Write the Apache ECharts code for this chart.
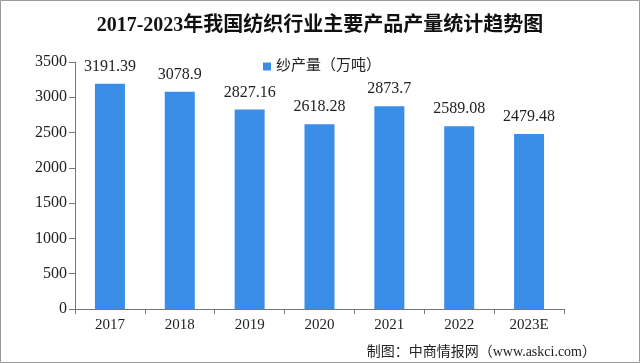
<!DOCTYPE html>
<html><head><meta charset="utf-8">
<script src="https://cdn.jsdelivr.net/npm/echarts@6/dist/echarts.min.js"></script>
<style>html,body{margin:0;padding:0;background:#fff}#c{width:640px;height:363px}</style>
</head><body><div id="c"></div>
<script>
const categories = ['2017','2018','2019','2020','2021','2022','2023E'];
const values = [3191.39, 3078.9, 2827.16, 2618.28, 2873.7, 2589.08, 2479.48];
const yTicks = [0,500,1000,1500,2000,2500,3000,3500];
const seriesName = '纱产量（万吨）';
const FONT = '"Liberation Serif", "Noto Sans CJK SC", serif';
const chart = echarts.init(document.getElementById('c'));
chart.setOption({
  animation: false,
  backgroundColor: '#fff',
  title: {
    text: '2017-2023年我国纺织行业主要产品产量统计趋势图',
    left: 'center', top: 11,
    textStyle: {fontFamily: FONT, fontSize: 20, fontWeight: 'bold', color: '#111'}
  },
  legend: {
    data: [seriesName], left: 258, top: 54, icon: 'rect', itemWidth: 8, itemHeight: 8, itemGap: 3,
    textStyle: {fontFamily: FONT, fontSize: 15, color: '#222'}
  },
  grid: {left: 75, right: 76, top: 62, bottom: 54},
  xAxis: {
    type: 'category', data: categories,
    axisLine: {lineStyle: {color: '#777'}},
    axisTick: {show: true, alignWithLabel: false, length: 5, lineStyle: {color: '#777'}},
    axisLabel: {fontFamily: FONT, fontSize: 15, color: '#222', margin: 9}
  },
  yAxis: {
    type: 'value', min: 0, max: 3500, interval: 500,
    axisLine: {show: true, lineStyle: {color: '#777'}},
    axisTick: {show: true, inside: false, length: 6, lineStyle: {color: '#777'}},
    splitLine: {show: false},
    axisLabel: {fontFamily: FONT, fontSize: 16, color: '#222', margin: 8,
      formatter: v => yTicks.includes(v) ? String(v) : ''}
  },
  series: [{
    name: seriesName, type: 'bar', data: values, barWidth: 30,
    itemStyle: {color: '#3a8ee8'},
    label: {show: true, position: 'top', distance: 9, fontFamily: FONT, fontSize: 16, color: '#222',
      formatter: p => String(p.value)}
  }],
  graphic: [
    {type: 'rect', shape: {x: 0.5, y: 0.5, width: 639, height: 362}, style: {fill: 'none', stroke: '#999', lineWidth: 1}},
    {type: 'text', right: 44, bottom: 4, style: {text: '制图：中商情报网（www.askci.com）', font: '14px ' + FONT, fill: '#222'}}
  ]
});
</script></body></html>
